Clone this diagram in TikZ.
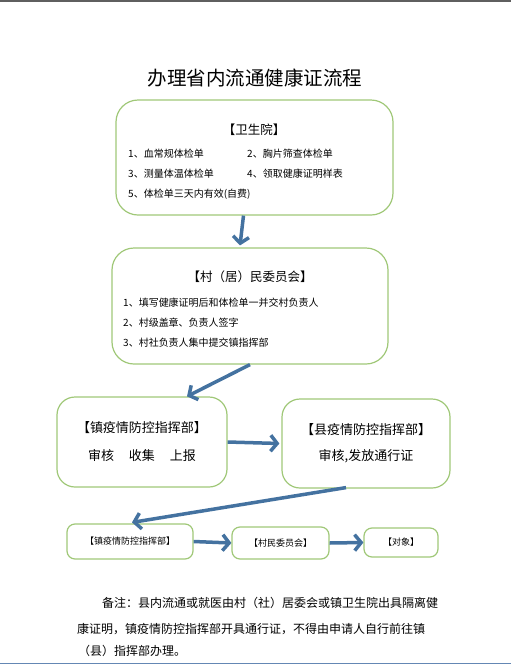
\documentclass[tikz,border=0pt]{standalone}
\usepackage{fontspec}
\setmainfont{Noto Sans CJK SC}
\usetikzlibrary{calc,arrows.meta}

\definecolor{boxgreen}{RGB}{160,200,120}
\definecolor{flowblue}{RGB}{68,114,160}
\definecolor{rulegray}{RGB}{95,95,95}
\definecolor{ruleblue}{RGB}{100,135,180}

\begin{document}
\begin{tikzpicture}[x=1pt,y=-1pt,
		box/.style={draw=boxgreen, line width=1.2pt, rounded corners=#1, inner sep=0pt, align=center},
		box/.default=20pt,
		flow/.style={draw=flowblue, line width=3.5pt, -{Straight Barb[length=6.5pt,width=16pt]}},
		item/.style={anchor=west, inner sep=0pt, font=\fontsize{10pt}{12pt}\selectfont},
		head/.style={inner sep=0pt, font=\fontsize{12.5pt}{15pt}\selectfont}
	]
		\useasboundingbox[fill=white] (0,0) rectangle (511,665);
		\draw[rulegray, line width=1.5pt] (0,0.75) -- (511,0.75);
		\draw[ruleblue, line width=1.5pt] (0,663.5) -- (511,663.5);

		\node[inner sep=0pt, font=\fontsize{19.5pt}{22pt}\selectfont] (title) at (255,78) {办理省内流通健康证流程};

		% boxes
		\node[box=22pt, minimum width=277pt, minimum height=115pt] (wsy) at (254.5,157.5) {};
		\node[box=22pt, minimum width=276pt, minimum height=116pt] (cjw) at (250,306) {};
		\node[box=18pt, minimum width=170pt, minimum height=90pt,
			font=\fontsize{13pt}{28pt}\selectfont] (zhen) at (142,442)
			{【镇疫情防控指挥部】\\审核\hspace{15pt}收集\hspace{15pt}上报};
		\node[box=18pt, minimum width=168pt, minimum height=89pt,
			font=\fontsize{13pt}{26pt}\selectfont] (xian) at (366,443.5)
			{【县疫情防控指挥部】\\审核,发放通行证};
		\node[box=8pt, minimum width=126pt, minimum height=35pt,
			font=\fontsize{9pt}{11pt}\selectfont] (zhen2) at (130,541.5) {【镇疫情防控指挥部】};
		\node[box=8pt, minimum width=97pt, minimum height=32pt,
			font=\fontsize{9pt}{11pt}\selectfont] (cmw) at (280.5,543) {【村民委员会】};
		\node[box=8pt, minimum width=74pt, minimum height=29pt,
			font=\fontsize{9pt}{11pt}\selectfont] (dx) at (401,542.5) {【对象】};

		% texts in the upper boxes
		\node[head] (wsy-t) at (254,130) {【卫生院】};
		\node[item] (wsy-1) at (128,154) {1、血常规体检单};
		\node[item] (wsy-2) at (247,154) {2、胸片筛查体检单};
		\node[item] (wsy-3) at (128,174) {3、测量体温体检单};
		\node[item] (wsy-4) at (247,174) {4、领取健康证明样表};
		\node[item] (wsy-5) at (128,194) {5、体检单三天内有效(自费)};

		\node[head] (cjw-t) at (250,277) {【村（居）民委员会】};
		\node[item] (cjw-1) at (123,303) {1、填写健康证明后和体检单一并交村负责人};
		\node[item] (cjw-2) at (123,323) {2、村级盖章、负责人签字};
		\node[item] (cjw-3) at (123,343) {3、村社负责人集中提交镇指挥部};

		% arrows
		\draw[flow] ($(wsy.south)+(-11,0)$) -- ($(cjw.north)+(-10,-2)$);
		\draw[flow] (cjw.south) -- ($(zhen.north)+(45,0)$);
		\draw[flow] (zhen.east) -- ($(xian.west)+(-2,0)$);
		\draw[flow] ($(xian.south)+(-20,-1)$) -- ($(zhen2.north)+(2,-1)$);
		\draw[flow] (zhen2.east) -- (cmw.west);
		\draw[flow] (cmw.east) -- (dx.west);

		% note
		\node[item, font=\fontsize{12pt}{14pt}\selectfont] (note-1) at (102,603) {备注：县内流通或就医由村（社）居委会或镇卫生院出具隔离健};
		\node[item, font=\fontsize{12pt}{14pt}\selectfont] (note-2) at (77,629) {康证明，镇疫情防控指挥部开具通行证，不得由申请人自行前往镇};
		\node[item, font=\fontsize{12pt}{14pt}\selectfont] (note-3) at (78,651) {（县）指挥部办理。};
	\end{tikzpicture}
\end{document}
